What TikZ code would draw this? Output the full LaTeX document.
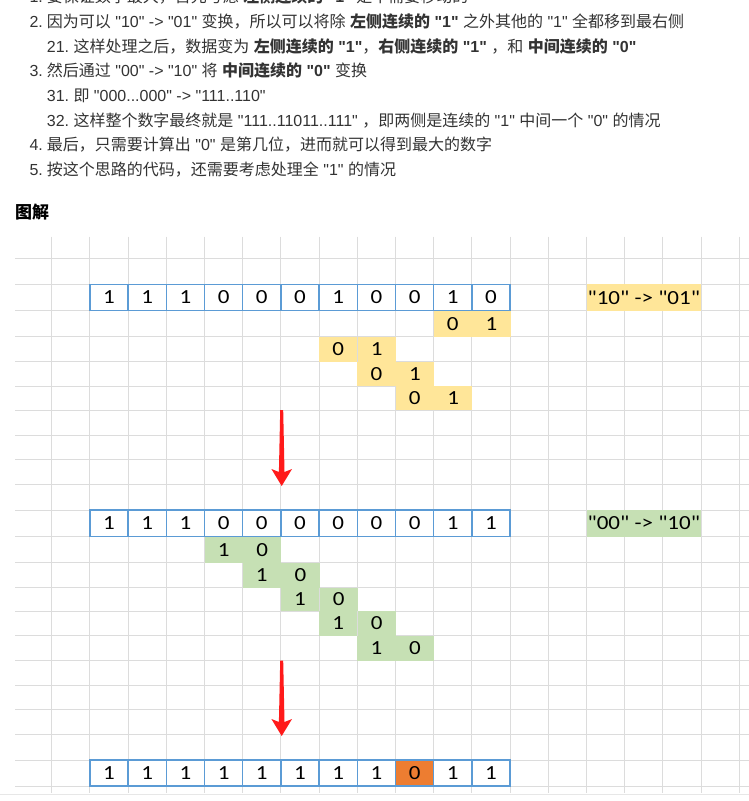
\documentclass[tikz,border=0pt]{standalone}
\usepackage{fontspec}
\newfontfamily\latin{Liberation Sans}
\newfontfamily\zh{Noto Sans CJK SC}
\newfontfamily\cellfont{Carlito}[FakeStretch=1.15]
\usetikzlibrary{positioning,calc}
\definecolor{txtgray}{HTML}{333333}
\definecolor{gridgray}{HTML}{DCDCDC}
\definecolor{cellblue}{HTML}{5B9BD5}
\definecolor{swapyellow}{HTML}{FFE699}
\definecolor{swapgreen}{HTML}{C6E0B4}
\definecolor{hitorange}{HTML}{ED7D31}
\definecolor{arrowred}{HTML}{FF1A1A}
\newcommand{\zhs}[1]{{\zh #1}}
\tikzset{
  line/.style={font=\latin\fontsize{16}{18}\selectfont, text=txtgray, anchor=west, inner sep=0pt},
  gridline/.style={gridgray, line width=1pt},
  bit/.style={draw=cellblue, line width=1.5pt, fill=white, minimum width=38.2pt, minimum height=26.4pt, inner sep=0pt, font=\cellfont\fontsize{20}{22}\selectfont},
  swap/.style={minimum width=38.2pt, inner sep=0pt, font=\cellfont\fontsize{20}{22}\selectfont},
  rule/.style={minimum width=114.6pt, minimum height=26.4pt, inner sep=0pt, font=\cellfont\fontsize{20}{22}\selectfont},
  taper/.style={to path={($(\tikztostart)+(-1.5,0)$) -- ($(\tikztostart)+(1.5,0)$) -- ($(\tikztotarget)+(2.8,-14)$) -- ($(\tikztotarget)+(10.3,-17)$) -- (\tikztotarget) -- ($(\tikztotarget)+(-10.3,-17)$) -- ($(\tikztotarget)+(-2.8,-14)$) -- cycle}}
}
\begin{document}
\begin{tikzpicture}[x=1pt,y=-1pt]
  \useasboundingbox (0,0) rectangle (749,801);
  \clip (0,0) rectangle (749,801);
  \fill[white] (0,0) rectangle (749,801);
  % notes
  \node[line] (n1) at (29.3,-3) {1.};
  \node[line] (t1) at (46.7,-3) {\zhs{要保证数字最大，首先考虑} \textbf{\zhs{左侧连续的} "1"} \zhs{是不需要移动的}};
  \node[line] (n2) at (29.3,21.7) {2.};
  \node[line] (t2) at (46.7,21.7) {\zhs{因为可以} "10" -> "01" \zhs{变换，所以可以将除} \textbf{\zhs{左侧连续的} "1"} \zhs{之外其他的} "1" \zhs{全都移到最右侧}};
  \node[line] (n21) at (46.7,46.7) {21.};
  \node[line] (t21) at (73.3,46.7) {\zhs{这样处理之后，数据变为} \textbf{\zhs{左侧连续的} "1"}\zhs{，}\textbf{\zhs{右侧连续的} "1"} \zhs{，和} \textbf{\zhs{中间连续的} "0"}};
  \node[line] (n3) at (29.3,71) {3.};
  \node[line] (t3) at (46.7,71) {\zhs{然后通过} "00" -> "10" \zhs{将} \textbf{\zhs{中间连续的} "0"} \zhs{变换}};
  \node[line] (n31) at (46.7,95.7) {31.};
  \node[line] (t31) at (73.3,95.7) {\zhs{即} "000...000" -> "111..110"};
  \node[line] (n32) at (46.7,120.7) {32.};
  \node[line] (t32) at (73.3,120.7) {\zhs{这样整个数字最终就是} "111..11011..111" \zhs{，即两侧是连续的} "1" \zhs{中间一个} "0" \zhs{的情况}};
  \node[line] (n4) at (29.3,145) {4.};
  \node[line] (t4) at (46.7,145) {\zhs{最后，只需要计算出} "0" \zhs{是第几位，进而就可以得到最大的数字}};
  \node[line] (n5) at (29.3,170) {5.};
  \node[line] (t5) at (46.7,170) {\zhs{按这个思路的代码，还需要考虑处理全} "1" \zhs{的情况}};
  \node[line, font=\zh\bfseries\fontsize{17}{20}\selectfont, text=black] (title) at (15,211.7) {图解};
  % grid
  \foreach \y in {258.3,284.3,310.7,336.7,361.7,386,410.3,435,459.3,484.3,510,536.7,562.7,587.7,611,635.7,660.7,685,709.3,734,760,786}
    \draw[gridline] (15,\y) -- (749,\y);
  \foreach \j in {1,...,19}
    \draw[gridline] (13.5+38.2*\j,236.7) -- (13.5+38.2*\j,793.3);
  \draw[gridgray!70, line width=1pt] (0,794.3) -- (749,794.3);
  % first row and "10" -> "01"
  \foreach \v [count=\i from 2] in {1,1,1,0,0,0,1,0,0,1,0}
    \node[bit] (first\i) at (32.6+38.2*\i,297.5) {\v};
  \node[rule, fill=swapyellow] (rule1) at (643.8,297.5) {"10" -> "01"};
  \foreach \c/\y/\h [count=\k] in {11/323.7/26,8/349.2/25,9/373.9/24.3,10/398.2/24.3}{
    \node[swap, fill=swapyellow, minimum height=\h pt] (ya\k) at (32.6+38.2*\c,\y) {0};
    \node[swap, fill=swapyellow, minimum height=\h pt, right=0pt of ya\k] (yb\k) {1};
  }
  \coordinate (arr1top) at (281.7,410);
  \coordinate (arr1tip) at (281.7,486);
  \fill[arrowred] (arr1top) to[taper] (arr1tip);
  % second row and "00" -> "10"
  \foreach \v [count=\i from 2] in {1,1,1,0,0,0,0,0,0,1,1}
    \node[bit, minimum height=26.7pt] (second\i) at (32.6+38.2*\i,523.3) {\v};
  \node[rule, fill=swapgreen, minimum height=26.7pt] (rule2) at (643.8,523.3) {"00" -> "10"};
  \foreach \c/\y/\h [count=\k] in {5/549.7/26,6/575.2/25,7/599.4/23.3,8/623.4/24.7,9/648.2/25}{
    \node[swap, fill=swapgreen, minimum height=\h pt] (ga\k) at (32.6+38.2*\c,\y) {1};
    \node[swap, fill=swapgreen, minimum height=\h pt, right=0pt of ga\k] (gb\k) {0};
  }
  \coordinate (arr2top) at (281.7,660.7);
  \coordinate (arr2tip) at (281.7,736);
  \fill[arrowred] (arr2top) to[taper] (arr2tip);
  % result
  \foreach \v/\f [count=\i from 2] in {1/white,1/white,1/white,1/white,1/white,1/white,1/white,1/white,0/hitorange,1/white,1/white}
    \node[bit, minimum height=26pt, fill=\f] (final\i) at (32.6+38.2*\i,773) {\v};
\end{tikzpicture}
\end{document}
